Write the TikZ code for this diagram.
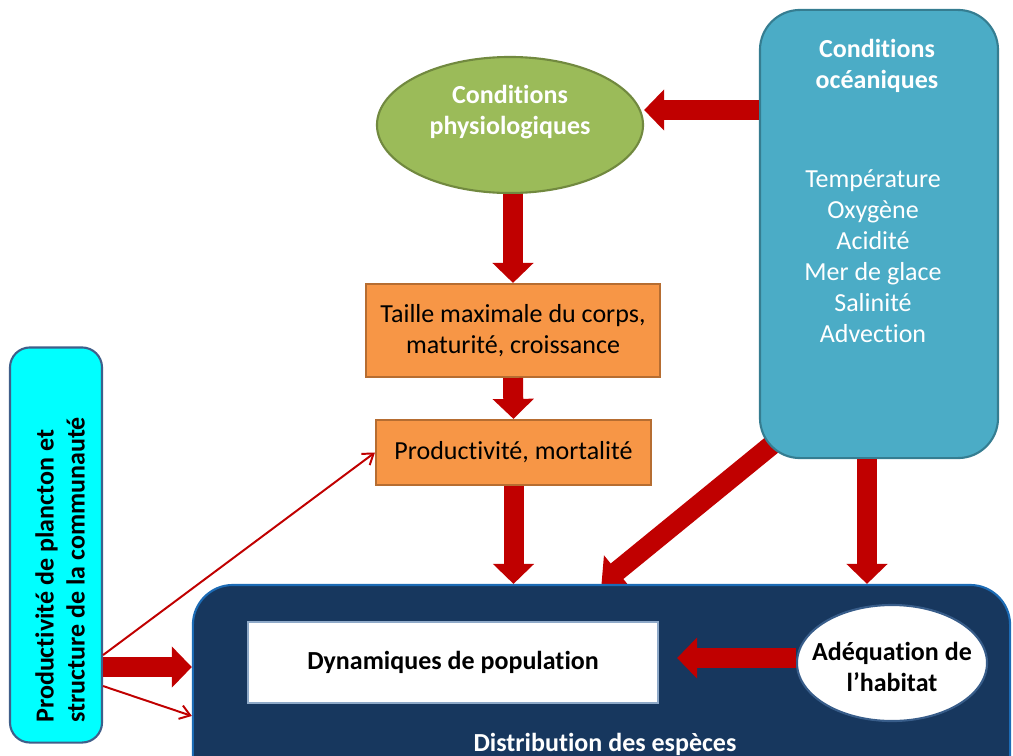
\documentclass[tikz,border=0pt]{standalone}
\usepackage{fontspec}
\setmainfont{Carlito}[Ligatures=NoCommon]
\usepackage{tikz}
\usetikzlibrary{shapes.geometric, arrows.meta, positioning}
\pgfdeclarelayer{background}
\pgfsetlayers{background,main}

\definecolor{arrowred}{HTML}{C00000}
\definecolor{physfill}{HTML}{9BBB59}
\definecolor{physline}{HTML}{71893F}
\definecolor{oceanfill}{HTML}{4BACC6}
\definecolor{oceanline}{HTML}{357D91}
\definecolor{orangefill}{HTML}{F79646}
\definecolor{orangeline}{HTML}{B66D31}
\definecolor{planctonfill}{HTML}{00FFFF}
\definecolor{planctonline}{HTML}{3F5F8A}
\definecolor{distribfill}{HTML}{17375E}
\definecolor{distribline}{HTML}{1C6BB5}
\definecolor{dynline}{HTML}{8EA9C8}
\definecolor{habitatline}{HTML}{385D8A}

\begin{document}
\begin{tikzpicture}[x=0.025cm, y=-0.025cm,
  every node/.style={font=\fontsize{18.5}{22}\selectfont, align=center, inner sep=0pt},
  boldtext/.style={font=\fontsize{18.5}{22}\selectfont\bfseries},
  bigarrow/.style={draw=arrowred, line width=0.5cm, -{Triangle[width=1cm, length=0.5cm]}},
  thinarrow/.style={draw=arrowred, line width=1.4pt, -{Straight Barb[width=0.35cm, length=0.25cm]}},
  orangebox/.style={rectangle, draw=orangeline, line width=1.5pt, fill=orangefill}]
  \clip (0,0) rectangle (1013,756);

  % Conditions physiologiques
  \node[ellipse, draw=physline, line width=1.5pt, fill=physfill,
        minimum width=6.65cm, minimum height=3.4cm] (phys) at (510,125) {};
  \node[boldtext, text=white] (physlabel)
        at ([yshift=0.32cm]phys.center) {Conditions\\physiologiques};

  % Conditions oceaniques
  \node[rectangle, rounded corners=1cm, draw=oceanline, line width=1.5pt, fill=oceanfill,
        minimum width=5.95cm, minimum height=11.2cm] (ocean) at (879,234) {};
  \node[boldtext, text=white] (oceantitle) at (877,66) {Conditions\\océaniques};
  \node[text=white] (oceanlist)
        at (873,256) {Température\\Oxygène\\Acidité\\Mer de glace\\Salinité\\Advection};

  % Traits du corps
  \node[orangebox, minimum width=7.35cm, minimum height=2.325cm] (taille)
        at (513,330.5) {Taille maximale du corps,\\maturité, croissance};
  \node[orangebox, minimum width=6.875cm, minimum height=1.625cm] (prod)
        at (513.5,452.5) {Productivité, mortalité};

  % Plancton
  \node[rectangle, rounded corners=0.5cm, draw=planctonline, line width=1.5pt, fill=planctonfill,
        minimum width=2.3cm, minimum height=9.875cm] (plancton) at (56,545) {};
  \node[boldtext, rotate=90, anchor=west, align=left] (planctonlabel)
        at (60,723) {Productivité de plancton et\\structure de la communauté};

  % Distribution des especes
  \node[rectangle, rounded corners=1cm, draw=distribline, line width=1.5pt, fill=distribfill,
        minimum width=20.425cm, minimum height=5.375cm] (distrib) at (601.5,692.5) {};
  \node[boldtext, text=white] (distriblabel) at (605,744) {Distribution des espèces};
  \node[boldtext, rectangle, draw=dynline, line width=1.5pt, fill=white,
        minimum width=10.25cm, minimum height=2.025cm] (dyn) at (453,662.5) {Dynamiques de population};
  \node[ellipse, draw=habitatline, line width=1.5pt, fill=white,
        minimum width=4.75cm, minimum height=2.9cm,
        label={[boldtext, yshift=-0.1cm]center:Adéquation de\\l’habitat}] (habitat) at (892,663) {};

  % Fleches
  \coordinate (physin) at ([yshift=0.375cm]phys.east);
  \draw[bigarrow] (ocean.west |- physin) -- (physin);
  \draw[bigarrow] (taille.north |- phys.south) -- (taille.north);
  \draw[bigarrow] (taille.south) -- (prod.north);
  \draw[bigarrow] (prod.south) -- (prod.south |- distrib.north);
  \begin{pgfonlayer}{background}
    \draw[bigarrow] ([shift={(0.5cm,0.5cm)}]ocean.south west) -- (distrib.north);
  \end{pgfonlayer}
  \draw[bigarrow] ([xshift=-0.3cm]ocean.south) -- ([xshift=-0.3cm]ocean.south |- distrib.north);
  \draw[bigarrow, shorten >=0.45cm] ([yshift=0.125cm]habitat.west) -- ([yshift=0.125cm]habitat.west -| dyn.east);

  \coordinate (plup) at ([yshift=-2.75cm]plancton.east);
  \coordinate (plmid) at ([yshift=-3.05cm]plancton.east);
  \coordinate (pllow) at ([yshift=-3.525cm]plancton.east);
  \draw[bigarrow] (plmid) -- (plmid -| distrib.west);
  \draw[thinarrow] (plup) -- (prod.west);
  \draw[thinarrow] (pllow) -- ([yshift=-3.3cm]distrib.north west);
\end{tikzpicture}
\end{document}
